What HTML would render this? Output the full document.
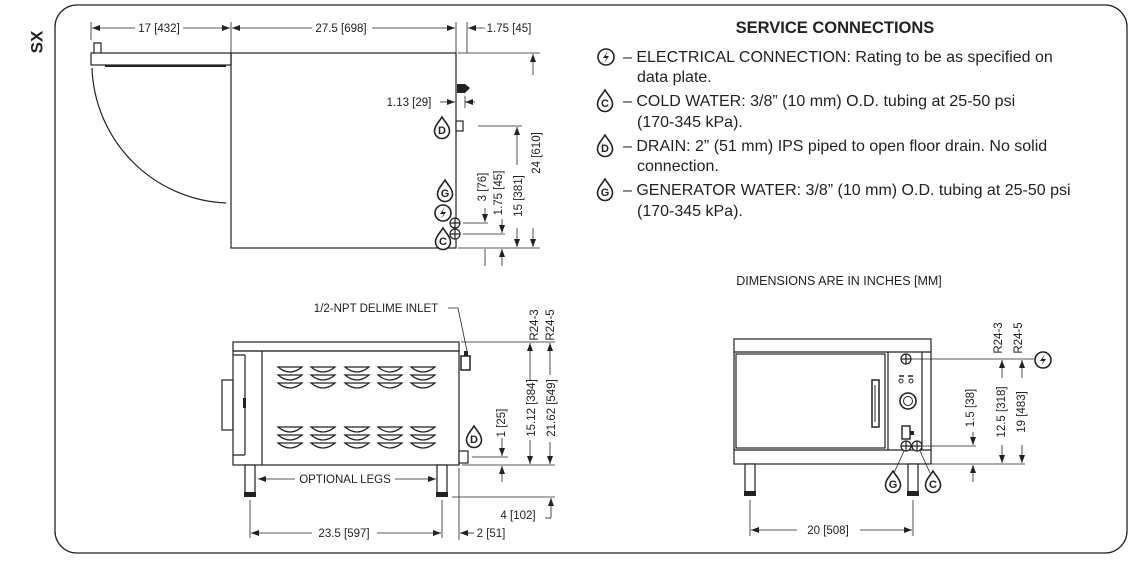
<!DOCTYPE html>
<html><head><meta charset="utf-8"><style>
html,body{margin:0;padding:0;background:#fff;}
svg{display:block;font-family:"Liberation Sans",Arial,sans-serif;}
.l{stroke:#222;stroke-width:1.2;fill:none}
.t{stroke:#222;stroke-width:0.8;fill:none}
.d{font-size:11.5px;fill:#222}
.p{font-size:16px;fill:#222}
</style></head><body>
<svg width="1139" height="568" viewBox="0 0 1139 568" xmlns="http://www.w3.org/2000/svg">
<defs>
<marker id="a" markerWidth="8" markerHeight="6" refX="8" refY="3" orient="auto" markerUnits="userSpaceOnUse"><path d="M0,0 L8,3 L0,6 Z" fill="#222"/></marker>
<g id="drop"><path d="M0,-11 C3,-6 7.5,-2 7.5,3 A7.5,7.5 0 0 1 -7.5,3 C-7.5,-2 -3,-6 0,-11 Z" fill="#fff" stroke="#222" stroke-width="1.6"/></g>
<g id="pwr"><circle r="8" fill="#fff" stroke="#222" stroke-width="1.6"/><path d="M2,-6 L-3,1 L0.5,1 L-2,6 L3,-1 L-0.5,-1 Z" fill="#222"/></g>
<g id="plus"><circle r="5" fill="#fff" stroke="#222" stroke-width="1.2"/><path d="M-5,0 H5 M0,-5 V5" stroke="#222" stroke-width="1.2"/></g>
<g id="louv"><path d="M-12,0 Q0,10 12,0 Z" fill="#fff" stroke="#222" stroke-width="1.2"/></g>
</defs>
<rect x="55" y="5" width="1072" height="548" rx="22" fill="none" stroke="#222" stroke-width="1.3"/>
<text x="38" y="42" transform="rotate(-90 38 42)" font-size="17" font-weight="bold" fill="#222" text-anchor="middle" dominant-baseline="middle">SX</text>

<!-- TOP VIEW -->
<rect x="231" y="53" width="225" height="195" class="l"/>
<rect x="91" y="53" width="140" height="12" class="l"/>
<path d="M105,66 H226" stroke="#222" stroke-width="2"/>
<path d="M94,53 V43 H101 V53" class="l"/>
<path d="M92,68 A140,140 0 0 0 226,203" class="l"/>
<path d="M91,22 V40 M231,22 V53 M456,22 V53 M467,22 V53" class="t"/>
<path d="M135,28 H92" class="t" marker-end="url(#a)"/><path d="M183,28 H230" class="t" marker-end="url(#a)"/>
<path d="M312,28 H232" class="t" marker-end="url(#a)"/><path d="M372,28 H455" class="t" marker-end="url(#a)"/>
<path d="M485,28 H468" class="t" marker-end="url(#a)"/>
<text x="159" y="32" class="d" text-anchor="middle">17 [432]</text>
<text x="341" y="32" class="d" text-anchor="middle">27.5 [698]</text>
<text x="509" y="32" class="d" text-anchor="middle">1.75 [45]</text>
<rect x="457" y="84" width="8" height="9" fill="#222"/><path d="M465,84 L470,88 L465,93 Z" fill="#222"/>
<path d="M440,102 H455" class="t" marker-end="url(#a)"/><path d="M475,102 H465" class="t" marker-end="url(#a)"/><path d="M465,96 V108" class="t"/>
<text x="409" y="106" class="d" text-anchor="middle">1.13 [29]</text>
<use href="#drop" x="442" y="128"/><text x="442" y="134" font-size="11" font-weight="bold" text-anchor="middle" fill="#222">D</text>
<rect x="456" y="121" width="7" height="10" fill="#fff" stroke="#222" stroke-width="1.2"/>
<use href="#drop" x="445" y="191"/><text x="445" y="197" font-size="11" font-weight="bold" text-anchor="middle" fill="#222">G</text>
<use href="#pwr" x="443" y="213"/>
<use href="#drop" x="443" y="239"/><text x="443" y="245" font-size="11" font-weight="bold" text-anchor="middle" fill="#222">C</text>
<use href="#plus" x="455" y="223"/><use href="#plus" x="455" y="234"/>
<path d="M458,53 H540 M478,126 H522 M463,223 H488 M463,234 H505 M458,248 H540" class="t"/>
<path d="M533,75 V54" class="t" marker-end="url(#a)"/><path d="M533,228 V247" class="t" marker-end="url(#a)"/>
<text transform="translate(537,153) rotate(-90)" class="d" text-anchor="middle" dominant-baseline="middle">24 [610]</text>
<path d="M517,165 V127" class="t" marker-end="url(#a)"/><path d="M517,228 V247" class="t" marker-end="url(#a)"/>
<text transform="translate(519,196) rotate(-90)" class="d" text-anchor="middle" dominant-baseline="middle">15 [381]</text>
<path d="M502,219 V233" class="t" marker-end="url(#a)"/>
<text transform="translate(499,193) rotate(-90)" class="d" text-anchor="middle" dominant-baseline="middle">1.75 [45]</text>
<path d="M485,208 V222" class="t" marker-end="url(#a)"/>
<text transform="translate(483,187) rotate(-90)" class="d" text-anchor="middle" dominant-baseline="middle">3 [76]</text>
<path d="M485,266 V249 M502,266 V249" class="t" marker-end="url(#a)"/>

<!-- SERVICE CONNECTIONS -->
<text x="835" y="33" font-size="16.5" font-weight="bold" text-anchor="middle" fill="#222">SERVICE CONNECTIONS</text>
<use href="#pwr" x="606" y="57"/>
<text x="623" y="62" class="p">– ELECTRICAL CONNECTION: Rating to be as specified on</text>
<text x="637" y="82" class="p">data plate.</text>
<use href="#drop" x="605" y="101"/><text x="605" y="107" font-size="11" font-weight="bold" text-anchor="middle" fill="#222">C</text>
<text x="623" y="106" class="p">– COLD WATER: 3/8” (10 mm) O.D. tubing at 25-50 psi</text>
<text x="637" y="127" class="p">(170-345 kPa).</text>
<use href="#drop" x="605" y="146"/><text x="605" y="152" font-size="11" font-weight="bold" text-anchor="middle" fill="#222">D</text>
<text x="623" y="151" class="p">– DRAIN: 2” (51 mm) IPS piped to open floor drain. No solid</text>
<text x="637" y="171" class="p">connection.</text>
<use href="#drop" x="605" y="190"/><text x="605" y="196" font-size="11" font-weight="bold" text-anchor="middle" fill="#222">G</text>
<text x="623" y="195" class="p">– GENERATOR WATER:  3/8” (10 mm) O.D. tubing at 25-50 psi</text>
<text x="637" y="216" class="p">(170-345 kPa).</text>
<text x="839" y="285" font-size="12.5" text-anchor="middle" fill="#222">DIMENSIONS ARE IN INCHES [MM]</text>

<!-- SIDE VIEW -->
<rect x="233" y="342" width="226" height="9" class="l"/>
<rect x="233" y="351" width="226" height="114" class="l"/>
<path d="M262,351 V465 M245,355 V455 M233,355 H245 M233,455 H245" class="l"/>
<rect x="222" y="380" width="11" height="50" class="l"/>
<rect x="243" y="398" width="3" height="10" fill="#222"/>
<g>
<use href="#louv" x="290" y="367"/><use href="#louv" x="290" y="375"/><use href="#louv" x="290" y="383"/>
<use href="#louv" x="323" y="367"/><use href="#louv" x="323" y="375"/><use href="#louv" x="323" y="383"/>
<use href="#louv" x="357" y="367"/><use href="#louv" x="357" y="375"/><use href="#louv" x="357" y="383"/>
<use href="#louv" x="390" y="367"/><use href="#louv" x="390" y="375"/><use href="#louv" x="390" y="383"/>
<use href="#louv" x="423" y="367"/><use href="#louv" x="423" y="375"/><use href="#louv" x="423" y="383"/>
<use href="#louv" x="290" y="427"/><use href="#louv" x="290" y="435"/><use href="#louv" x="290" y="443"/>
<use href="#louv" x="323" y="427"/><use href="#louv" x="323" y="435"/><use href="#louv" x="323" y="443"/>
<use href="#louv" x="357" y="427"/><use href="#louv" x="357" y="435"/><use href="#louv" x="357" y="443"/>
<use href="#louv" x="390" y="427"/><use href="#louv" x="390" y="435"/><use href="#louv" x="390" y="443"/>
<use href="#louv" x="423" y="427"/><use href="#louv" x="423" y="435"/><use href="#louv" x="423" y="443"/>
</g>
<rect x="245" y="465" width="10" height="28" fill="#fff" stroke="#222" stroke-width="1.2"/><rect x="244" y="492" width="12" height="5" fill="#222"/>
<rect x="437" y="465" width="10" height="28" fill="#fff" stroke="#222" stroke-width="1.2"/><rect x="436" y="492" width="12" height="5" fill="#222"/>
<path d="M461,356 h9 v14 h-9 z" fill="#fff" stroke="#222" stroke-width="1.5"/><rect x="464" y="351" width="4" height="5" fill="#222"/>
<text x="376" y="312" class="d" text-anchor="middle">1/2-NPT DELIME INLET</text>
<path d="M448,308 H458 L467,351" class="t"/>
<use href="#drop" x="474" y="437"/><text x="474" y="443" font-size="11" font-weight="bold" text-anchor="middle" fill="#222">D</text>
<rect x="459" y="451" width="9" height="12" fill="#fff" stroke="#222" stroke-width="1.2"/>
<path d="M461,342 H555 M472,457 H508 M462,465 H555 M452,497 H555 M459,468 V540 M250,500 V538 M442,500 V538" class="t"/>
<text transform="translate(535,325) rotate(-90)" class="d" text-anchor="middle" dominant-baseline="middle">R24-3</text>
<text transform="translate(551,325) rotate(-90)" class="d" text-anchor="middle" dominant-baseline="middle">R24-5</text>
<path d="M530,380 V343" class="t" marker-end="url(#a)"/><path d="M530,440 V464" class="t" marker-end="url(#a)"/>
<text transform="translate(532,408) rotate(-90)" class="d" text-anchor="middle" dominant-baseline="middle">15.12 [384]</text>
<path d="M550,375 V343" class="t" marker-end="url(#a)"/><path d="M550,442 V464" class="t" marker-end="url(#a)"/>
<text transform="translate(552,408) rotate(-90)" class="d" text-anchor="middle" dominant-baseline="middle">21.62 [549]</text>
<path d="M502,438 V456" class="t" marker-end="url(#a)"/><path d="M502,482 V466" class="t" marker-end="url(#a)"/>
<text transform="translate(502,423) rotate(-90)" class="d" text-anchor="middle" dominant-baseline="middle">1 [25]</text>
<path d="M551,518 V498" class="t" marker-end="url(#a)"/><path d="M545,518 H551" class="t"/>
<text x="518" y="519" class="d" text-anchor="middle">4 [102]</text>
<path d="M295,479 H258" class="t" marker-end="url(#a)"/><path d="M395,479 H436" class="t" marker-end="url(#a)"/>
<text x="345" y="483" class="d" text-anchor="middle">OPTIONAL LEGS</text>
<path d="M312,533 H251" class="t" marker-end="url(#a)"/><path d="M377,533 H441" class="t" marker-end="url(#a)"/>
<text x="344" y="537" class="d" text-anchor="middle">23.5 [597]</text>
<path d="M474,533 H460" class="t" marker-end="url(#a)"/>
<text x="491" y="537" class="d" text-anchor="middle">2 [51]</text>

<!-- FRONT VIEW -->
<rect x="734" y="339" width="197" height="125" class="l"/>
<path d="M734,352 H931 M734,450 H931" class="l"/>
<rect x="736" y="354" width="149" height="94" class="l"/>
<path d="M888,352 V450 M922,352 V450" class="l"/>
<rect x="872" y="380" width="7" height="47" fill="#fff" stroke="#222" stroke-width="1.5"/>
<path d="M875,385 V422" stroke="#222" stroke-width="1"/>
<use href="#plus" x="906" y="359"/>
<path d="M899,376 h5 M908,376 h5" stroke="#222" stroke-width="1.5"/><circle cx="901" cy="381" r="2" fill="none" stroke="#222"/><circle cx="911" cy="381" r="2" fill="none" stroke="#222"/>
<circle cx="908" cy="401" r="8" fill="#fff" stroke="#222" stroke-width="1.6"/><circle cx="908" cy="401" r="4.5" fill="none" stroke="#222"/>
<rect x="902" y="426" width="8" height="13" fill="#fff" stroke="#222" stroke-width="1.4"/><rect x="910" y="431" width="4" height="4" fill="#222"/>
<use href="#plus" x="906" y="446"/><use href="#plus" x="917" y="446"/>
<rect x="745" y="464" width="10" height="28" fill="#fff" stroke="#222" stroke-width="1.2"/><rect x="744" y="491" width="12" height="5" fill="#222"/>
<rect x="908" y="464" width="10" height="28" fill="#fff" stroke="#222" stroke-width="1.2"/><rect x="907" y="491" width="12" height="5" fill="#222"/>
<path d="M904,451 L894,473 M920,451 L930,473" class="t"/>
<use href="#drop" x="893" y="482"/><text x="893" y="488" font-size="11" font-weight="bold" text-anchor="middle" fill="#222">G</text>
<use href="#drop" x="933" y="482"/><text x="933" y="488" font-size="11" font-weight="bold" text-anchor="middle" fill="#222">C</text>
<path d="M911,359 H1034 M923,446 H976 M931,464 H1025 M750,500 V536 M913,500 V536" class="t"/>
<use href="#pwr" x="1043" y="360"/>
<text transform="translate(999,338) rotate(-90)" class="d" text-anchor="middle" dominant-baseline="middle">R24-3</text>
<text transform="translate(1019,338) rotate(-90)" class="d" text-anchor="middle" dominant-baseline="middle">R24-5</text>
<path d="M1002,378 V360" class="t" marker-end="url(#a)"/><path d="M1002,445 V463" class="t" marker-end="url(#a)"/>
<text transform="translate(1002,412) rotate(-90)" class="d" text-anchor="middle" dominant-baseline="middle">12.5 [318]</text>
<path d="M1022,378 V360" class="t" marker-end="url(#a)"/><path d="M1022,445 V463" class="t" marker-end="url(#a)"/>
<text transform="translate(1022,412) rotate(-90)" class="d" text-anchor="middle" dominant-baseline="middle">19 [483]</text>
<path d="M973,432 V445" class="t" marker-end="url(#a)"/><path d="M973,482 V465" class="t" marker-end="url(#a)"/>
<text transform="translate(971,408) rotate(-90)" class="d" text-anchor="middle" dominant-baseline="middle">1.5 [38]</text>
<path d="M797,530 H751" class="t" marker-end="url(#a)"/><path d="M860,530 H912" class="t" marker-end="url(#a)"/>
<text x="828" y="534" class="d" text-anchor="middle">20 [508]</text>
</svg>
</body></html>
